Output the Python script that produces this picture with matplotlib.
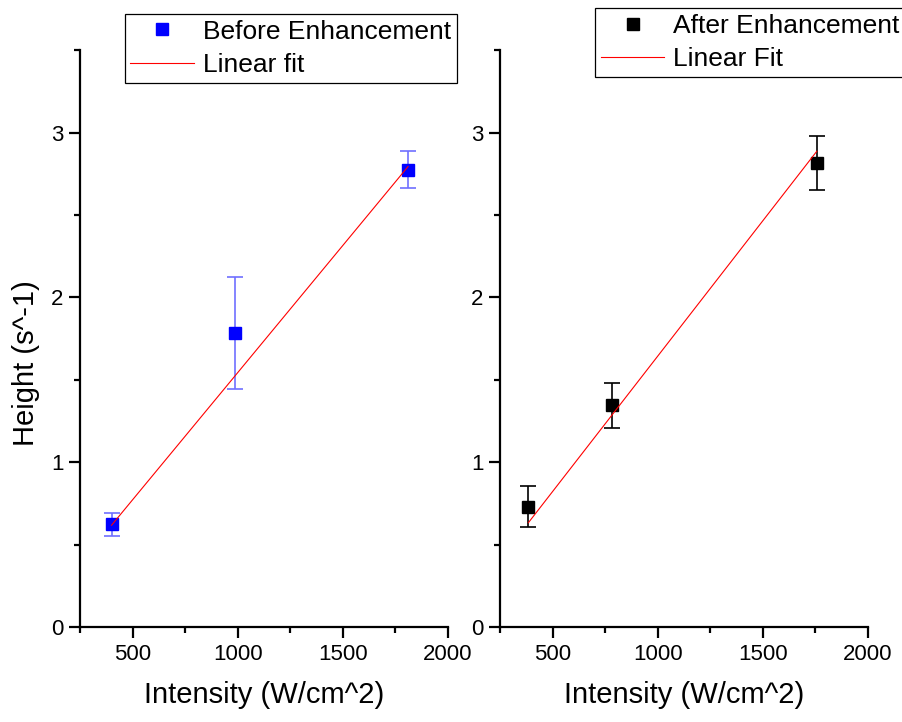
import numpy as np
import matplotlib.pyplot as plt
from matplotlib.ticker import MultipleLocator

plt.rcParams['font.family'] = ['Liberation Sans', 'DejaVu Sans']

# intensity (W/cm^2), peak height (s^-1) and its error for each run
before_x = [400, 988, 1810]
before_y = [0.624, 1.783, 2.775]
before_err = [0.069, 0.342, 0.110]

after_x = [385, 784, 1757]
after_y = [0.730, 1.344, 2.815]
after_err = [0.125, 0.138, 0.164]


def origin_fit(x, y, err):
    """Weighted least squares line through the origin, returns slope"""
    x, y, w = np.asarray(x), np.asarray(y), 1.0 / np.asarray(err) ** 2
    return np.sum(w * x * y) / np.sum(w * x * x)


def style_axis(ax):
    ax.set_xlim(250, 2000)
    ax.set_ylim(0, 3.5)
    ax.xaxis.set_major_locator(MultipleLocator(500))
    ax.xaxis.set_minor_locator(MultipleLocator(250))
    ax.yaxis.set_major_locator(MultipleLocator(1))
    ax.yaxis.set_minor_locator(MultipleLocator(0.5))
    for side in ['top', 'right']:
        ax.spines[side].set_visible(False)
    for side in ['left', 'bottom']:
        ax.spines[side].set_linewidth(1.6)
    ax.tick_params(which='major', direction='out', length=8, width=1.6,
                   labelsize=16, pad=4)
    ax.tick_params(which='minor', direction='out', length=4, width=1.6)
    ax.set_xlabel('Intensity (W/cm^2)', fontsize=21)
    ax.xaxis.set_label_coords(0.5, -0.093)


def panel(ax, x, y, err, color, ecolor, capcolor, name, fitname, legend_at):
    eb = ax.errorbar(x, y, yerr=err, fmt='none', ecolor=ecolor,
                     elinewidth=1.2, capsize=5.5, capthick=1.2, zorder=2)
    for cap in eb[1]:
        cap.set_color(capcolor)
    ax.plot(x, y, 's', color=color, markersize=8.5, label=name, zorder=3)
    slope = origin_fit(x, y, err)
    xs = np.array([min(x), max(x)])
    ax.plot(xs, slope * xs, '-', color='red', lw=0.8, label=fitname, zorder=4)
    style_axis(ax)
    leg = ax.legend(loc='upper left', bbox_to_anchor=legend_at,
                    bbox_transform=plt.gcf().transFigure, fontsize=19,
                    frameon=True, fancybox=False, framealpha=1,
                    edgecolor='black', borderpad=0.22, labelspacing=0.35,
                    handlelength=2.4, handletextpad=0.35, borderaxespad=0)
    leg.get_frame().set_linewidth(0.9)


fig = plt.figure(figsize=(9.03, 7.22), dpi=100)
ax1 = fig.add_axes([0.0886, 0.1316, 0.4075, 0.799])
ax2 = fig.add_axes([0.5537, 0.1316, 0.4075, 0.799])

panel(ax1, before_x, before_y, before_err, '#0000ff', '#7070ff', '#4040ff',
      'Before Enhancement', 'Linear fit', (0.138, 0.981))
panel(ax2, after_x, after_y, after_err, 'black', 'black', '#555555',
      'After Enhancement', 'Linear Fit', (0.659, 0.989))

ax1.set_ylabel('Height (s^-1)', fontsize=21)
ax1.yaxis.set_label_coords(-0.11, 0.457)

fig.savefig('out.png', dpi=100)
